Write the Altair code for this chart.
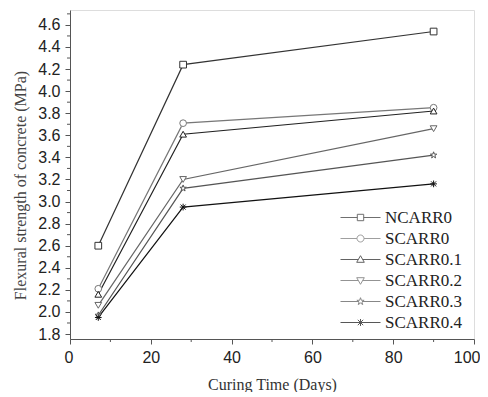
import altair as alt
import pandas as pd

# ---- data ----
days = [7, 28, 90]
series = ["NCARR0", "SCARR0", "SCARR0.1", "SCARR0.2", "SCARR0.3", "SCARR0.4"]
ncarr0 = [2.60, 4.24, 4.54]
scarr0 = [2.21, 3.71, 3.85]
scarr01 = [2.16, 3.61, 3.82]
scarr02 = [2.06, 3.20, 3.66]
scarr03 = [1.97, 3.12, 3.42]
scarr04 = [1.95, 2.95, 3.16]

x_major = [0, 20, 40, 60, 80, 100]
x_minor = [10, 30, 50, 70, 90]
y_major = [1.8, 2.0, 2.2, 2.4, 2.6, 2.8, 3.0, 3.2, 3.4, 3.6, 3.8, 4.0, 4.2, 4.4, 4.6]
y_minor = [1.9, 2.1, 2.3, 2.5, 2.7, 2.9, 3.1, 3.3, 3.5, 3.7, 3.9, 4.1, 4.3, 4.5, 4.7]

# ---- styles ----
line_colors = ["#333333", "#777777", "#222222", "#666666", "#555555", "#111111"]

STAR = ("M0,-1L0.235,-0.324L0.951,-0.309L0.380,0.124L0.588,0.809L0,0.4"
        "L-0.588,0.809L-0.380,0.124L-0.951,-0.309L-0.235,-0.324Z")
AST = "M-1,0H1M0,-1V1M-0.75,-0.75L0.75,0.75M-0.75,0.75L0.75,-0.75"
plot_shapes = ["square", "circle", "triangle-up", "triangle-down", STAR, AST]

# legend symbols: a line segment with the marker in its middle
legend_shapes = [
    "M-2,0H-0.32M0.32,0H2M-0.32,-0.32H0.32V0.32H-0.32Z",
    "M-2,0H-0.35M0.35,0H2M0.35,0A0.35,0.35,0,1,1,-0.35,0A0.35,0.35,0,1,1,0.35,0Z",
    "M-2,0H-0.22M0.22,0H2M0,-0.38L0.38,0.28H-0.38Z",
    "M-2,0H-0.22M0.22,0H2M0,0.38L0.38,-0.28H-0.38Z",
    "M-2,0H-0.21M0.21,0H2M0,-0.38L0.089,-0.123L0.361,-0.117L0.144,0.047L0.223,0.307L0,0.152"
    "L-0.223,0.307L-0.144,0.047L-0.361,-0.117L-0.089,-0.123Z",
    "M-2,0H2M0,-0.35V0.35M-0.27,-0.27L0.27,0.27M-0.27,0.27L0.27,-0.27",
]

vals = [ncarr0, scarr0, scarr01, scarr02, scarr03, scarr04]
rows = []
for s, v in zip(series, vals):
    for d, y in zip(days, v):
        rows.append({"series": s, "label": s, "days": d, "strength": y})
df = pd.DataFrame(rows)

xscale = alt.Scale(domain=[0, 100], nice=False, zero=False)
yscale = alt.Scale(domain=[1.755, 4.735], nice=False, zero=False)

SERIF = "Liberation Serif"
SANS = "Liberation Sans"

x_axis = alt.Axis(values=x_major, format="d", title="Curing Time (Days)",
                  titleFont=SERIF, titleFontSize=16, titleFontWeight="normal",
                  titleColor="#333333", titlePadding=11,
                  labelFont=SANS, labelFontSize=16, labelColor="#222222",
                  labelPadding=5, tickSize=5, tickColor="#555555",
                  domainColor="#555555", grid=False,
                  labelFlush=True, labelFlushOffset=6)
y_axis = alt.Axis(values=y_major, format=".1f",
                  title="Flexural strength of concrete (MPa)",
                  titleFont=SERIF, titleFontSize=16, titleFontWeight="normal",
                  titleColor="#444444", titlePadding=9, titleY=175,
                  labelFont=SANS, labelFontSize=16, labelColor="#222222",
                  labelPadding=5, tickSize=5, tickColor="#555555",
                  domainColor="#555555", grid=False)

x_enc = alt.X("days:Q", scale=xscale, axis=x_axis)
y_enc = alt.Y("strength:Q", scale=yscale, axis=y_axis)

base = alt.Chart(df)

lines = base.mark_line(strokeWidth=1.2).encode(
    x=x_enc, y=y_enc,
    stroke=alt.Stroke("series:N", scale=alt.Scale(domain=series, range=line_colors), legend=None),
    detail="series:N",
)

points = base.mark_point(filled=False, fill="white", fillOpacity=1, size=45,
                         strokeWidth=1, opacity=1).encode(
    x=x_enc, y=y_enc,
    shape=alt.Shape("series:N", scale=alt.Scale(domain=series, range=plot_shapes), legend=None),
    stroke=alt.Stroke("series:N", scale=alt.Scale(domain=series, range=line_colors), legend=None),
)

legend_layer = base.transform_filter("false").mark_point(filled=False, strokeWidth=1).encode(
    x=x_enc, y=y_enc,
    shape=alt.Shape("label:N", scale=alt.Scale(domain=series, range=legend_shapes),
                    legend=alt.Legend(title=None, orient="none", legendX=280, legendY=197,
                                      labelFont=SERIF, labelFontSize=17, labelColor="#222222",
                                      symbolSize=400, symbolStrokeWidth=1, rowPadding=2,
                                      labelOffset=14, symbolFillColor="white")),
    stroke=alt.Stroke("label:N", scale=alt.Scale(domain=series, range=line_colors)),
)

ymin_df = pd.DataFrame({"strength": y_minor})
xmin_df = pd.DataFrame({"days": x_minor})
ymin = alt.Chart(ymin_df).mark_rule(color="#555555", strokeWidth=1).encode(
    y=y_enc, x=alt.value(0), x2=alt.value(-3))
xmin = alt.Chart(xmin_df).mark_rule(color="#555555", strokeWidth=1).encode(
    x=x_enc, y=alt.value(329), y2=alt.value(332))

chart = alt.layer(lines, ymin, xmin, points, legend_layer).resolve_scale(
    shape="independent", stroke="independent"
).resolve_legend(shape="independent", stroke="independent").properties(
    width=404, height=329,
    padding={"left": 4, "top": 2, "right": 0, "bottom": 0},
).configure_view(stroke="#555555", strokeWidth=1).configure(background="white")

chart.save("out.html", embed_options={"renderer": "svg", "actions": False})
